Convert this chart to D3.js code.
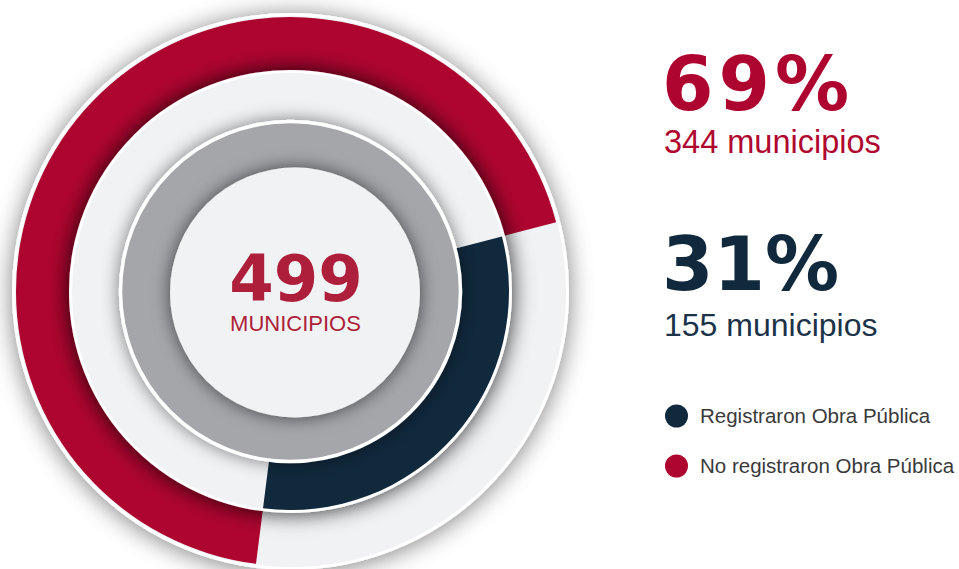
<!DOCTYPE html>
<html>
<head>
<meta charset="utf-8">
<script src="https://cdn.jsdelivr.net/npm/d3@7"></script>
<style>
  html, body { margin: 0; padding: 0; background: #ffffff; }
  svg { display: block; }
</style>
</head>
<body>
<svg id="chart" width="959" height="569"></svg>
<script>
// ---- data ----
const categories = ["Registraron Obra Pública", "No registraron Obra Pública"];
const values = [155, 344];
const totalLabel = "499";
const totalCaption = "MUNICIPIOS";
const unitLabel = "municipios";
const seriesColors = ["#11293d", "#ae0530"];

const total = d3.sum(values);
const svg = d3.select("#chart");

// ---- filters (soft shadows) ----
const defs = svg.append("defs");
function shadow(id, std, opacity, dy) {
  const f = defs.append("filter").attr("id", id)
    .attr("x", "-30%").attr("y", "-30%").attr("width", "160%").attr("height", "160%");
  f.append("feGaussianBlur").attr("in", "SourceAlpha").attr("stdDeviation", std).attr("result", "b");
  f.append("feOffset").attr("in", "b").attr("dx", 0).attr("dy", dy).attr("result", "o");
  f.append("feFlood").attr("flood-color", "#000").attr("flood-opacity", opacity).attr("result", "c");
  f.append("feComposite").attr("in", "c").attr("in2", "o").attr("operator", "in").attr("result", "s");
  const m = f.append("feMerge");
  m.append("feMergeNode").attr("in", "s");
  m.append("feMergeNode").attr("in", "SourceGraphic");
}
shadow("shOuter", 12, 0.5, 2);
shadow("shMid", 11, 0.85, 0);
shadow("shGray", 9, 0.5, 0);
shadow("shInner", 9, 0.6, 0);

const cx = 290.5, cy = 291.5;
const g = svg.append("g").attr("transform", `translate(${cx},${cy})`);

const light = "#f1f2f4";
const start = 75.4 * Math.PI / 180;
const pie = d3.pie().sort(null).startAngle(start).endAngle(start + 2 * Math.PI);
const slices = pie(values);

// outer disc
g.append("circle").attr("r", 277).attr("fill", light)
  .attr("stroke", "#ffffff").attr("stroke-width", 3)
  .attr("filter", "url(#shOuter)");

// outer (red) arc – second series
const arcOuter = d3.arc().innerRadius(205).outerRadius(274.5);
g.append("path").attr("d", arcOuter(slices[1])).attr("fill", seriesColors[1]);

// middle disc
g.append("circle").attr("r", 220).attr("fill", light)
  .attr("stroke", "#ffffff").attr("stroke-width", 3)
  .attr("filter", "url(#shMid)");

// inner (navy) arc – first series
const arcInner = d3.arc().innerRadius(150).outerRadius(218.5);
g.append("path").attr("d", arcInner(slices[0])).attr("fill", seriesColors[0]);

// gray disc
g.append("circle").attr("r", 170).attr("fill", "#a5a6aa")
  .attr("stroke", "#ffffff").attr("stroke-width", 3.5)
  .attr("filter", "url(#shGray)");

// inner disc
svg.append("circle").attr("cx", 295).attr("cy", 292.5).attr("r", 125)
  .attr("fill", light).attr("filter", "url(#shInner)");

// centre text
svg.append("text").attr("x", 296).attr("y", 301)
  .attr("text-anchor", "middle")
  .attr("font-family", "DejaVu Sans").attr("font-weight", "bold")
  .attr("font-size", 64).attr("fill", "#ad1f3a").text(totalLabel);
svg.append("text").attr("x", 295.5).attr("y", 330.5)
  .attr("text-anchor", "middle")
  .attr("font-family", "Liberation Sans").attr("font-size", 22)
  .attr("fill", "#ad1f3a").text(totalCaption);

// right side stats (red first, navy second)
const statOrder = [1, 0];
const statY = [110, 290];
statOrder.forEach((idx, k) => {
  const pct = Math.round(values[idx] / total * 100) + "%";
  svg.append("text").attr("x", 662).attr("y", statY[k])
    .attr("font-family", "DejaVu Sans").attr("font-weight", "bold")
    .attr("font-size", 74).attr("letter-spacing", k ? 0 : 5)
    .attr("fill", seriesColors[idx]).text(pct);
  svg.append("text").attr("x", 664).attr("y", statY[k] + 43 + (k ? 3 : 0))
    .attr("font-family", "Liberation Sans").attr("font-size", k ? 32 : 32.5)
    .attr("fill", idx === 0 ? "#1b3348" : "#b0072f")
    .text(values[idx] + " " + unitLabel);
});

// legend
const legendY = [416, 466];
categories.forEach((c, i) => {
  svg.append("circle").attr("cx", 676.5).attr("cy", legendY[i]).attr("r", 11.5)
    .attr("fill", seriesColors[i]);
  svg.append("text").attr("x", 700).attr("y", legendY[i] + 7)
    .attr("font-family", "Liberation Sans").attr("font-size", 20.5)
    .attr("fill", "#3a3a3a").text(c);
});
</script>
</body>
</html>
